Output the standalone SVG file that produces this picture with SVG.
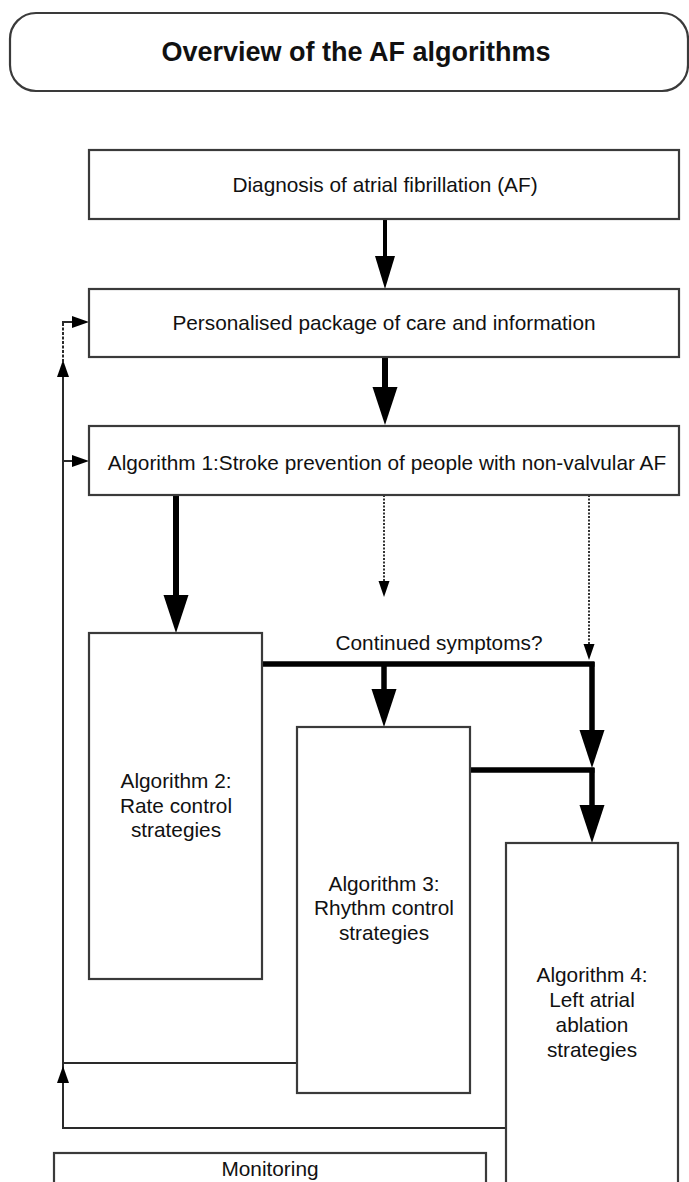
<svg xmlns="http://www.w3.org/2000/svg" width="689" height="1182" viewBox="0 0 689 1182">
<style>
.box{fill:#fff;stroke:#3a3a3a;stroke-width:2.2}
.t{font-family:"Liberation Sans",Arial,sans-serif;font-size:20.8px;fill:#111;text-anchor:middle}
.title{font-family:"Liberation Sans",Arial,sans-serif;font-size:27px;font-weight:bold;fill:#111;text-anchor:middle}
.thick{fill:none;stroke:#000;stroke-width:6}
.med{fill:none;stroke:#000;stroke-width:4}
.bar{fill:none;stroke:#000;stroke-width:5.5}
.thin{fill:none;stroke:#2a2a2a;stroke-width:2}
.dot{fill:none;stroke:#333;stroke-width:2;stroke-dasharray:2 1.5}
</style>
<defs>
<marker id="headL" markerUnits="userSpaceOnUse" markerWidth="38" markerHeight="25" refX="0" refY="12.5" orient="auto" overflow="visible"><path d="M0,0 L38,12.5 L0,25 z" fill="#000"/></marker>
<marker id="headM" markerUnits="userSpaceOnUse" markerWidth="33" markerHeight="20" refX="0" refY="10" orient="auto" overflow="visible"><path d="M0,0 L33,10 L0,20 z" fill="#000"/></marker>
<marker id="headS" markerUnits="userSpaceOnUse" markerWidth="17" markerHeight="12" refX="0" refY="6" orient="auto" overflow="visible"><path d="M0,0 L17,6 L0,12 z" fill="#000"/></marker>
<marker id="headD" markerUnits="userSpaceOnUse" markerWidth="16" markerHeight="11" refX="0" refY="5.5" orient="auto" overflow="visible"><path d="M0,0 L16,5.5 L0,11 z" fill="#000"/></marker>
</defs>
<rect width="689" height="1182" fill="#fff"/>

<g id="title">
<rect class="box" x="10" y="13" width="678" height="78" rx="26" ry="26"/>
<text class="title" x="356" y="61">Overview of the AF algorithms</text>
</g>

<g id="connectors">
<path class="med" d="M385,219 V256" marker-end="url(#headM)"/>
<path class="thick" d="M385,357 V387" marker-end="url(#headL)"/>
<path class="thick" d="M176,495 V595" marker-end="url(#headL)"/>
<path class="dot" d="M384,495 V581" marker-end="url(#headD)"/>
<path class="dot" d="M589,495 V644" marker-end="url(#headD)"/>
<path class="bar" d="M262,664 H594.5"/>
<path class="bar" d="M384,664 V689" marker-end="url(#headL)"/>
<path class="bar" d="M592,662 V730" marker-end="url(#headL)"/>
<path class="bar" d="M470,770 H594.5"/>
<path class="bar" d="M592,768 V805" marker-end="url(#headL)"/>
<path class="thin" d="M506,1128 H63 V377" marker-end="url(#headS)"/>
<path class="thin" d="M297,1063 H63"/>
<path class="thin" d="M63,1085 L63,1083" marker-end="url(#headS)"/>
<path class="thin" d="M63,362 V322" stroke-dasharray="3 1.5"/>
<path class="thin" d="M62,322 H72" marker-end="url(#headS)"/>
<path class="thin" d="M63,461 H72" marker-end="url(#headS)"/>
</g>

<g id="diagnosis">
<rect class="box" x="89" y="150" width="590" height="69"/>
<text class="t" x="385" y="192">Diagnosis of atrial fibrillation (AF)</text>
</g>

<g id="personalised">
<rect class="box" x="89" y="289" width="590" height="68"/>
<text class="t" x="384" y="330">Personalised package of care and information</text>
</g>

<g id="algorithm1">
<rect class="box" x="89" y="426" width="590" height="69"/>
<text class="t" x="387" y="470">Algorithm 1:Stroke prevention of people with non-valvular AF</text>
</g>

<g id="continued">
<text class="t" x="439" y="650">Continued symptoms?</text>
</g>

<g id="algorithm2">
<rect class="box" x="89" y="633" width="173" height="346"/>
<text class="t" x="176" y="788">Algorithm 2:</text>
<text class="t" x="176" y="813">Rate control</text>
<text class="t" x="176" y="837">strategies</text>
</g>

<g id="algorithm3">
<rect class="box" x="297" y="727" width="173" height="366"/>
<text class="t" x="384" y="891">Algorithm 3:</text>
<text class="t" x="384" y="915">Rhythm control</text>
<text class="t" x="384" y="940">strategies</text>
</g>

<g id="algorithm4">
<rect class="box" x="506" y="843" width="172" height="360"/>
<text class="t" x="592" y="982">Algorithm 4:</text>
<text class="t" x="592" y="1007">Left atrial</text>
<text class="t" x="592" y="1032">ablation</text>
<text class="t" x="592" y="1057">strategies</text>
</g>

<g id="monitoring">
<rect class="box" x="54" y="1153" width="432" height="50"/>
<text class="t" x="270" y="1176">Monitoring</text>
</g>
</svg>
